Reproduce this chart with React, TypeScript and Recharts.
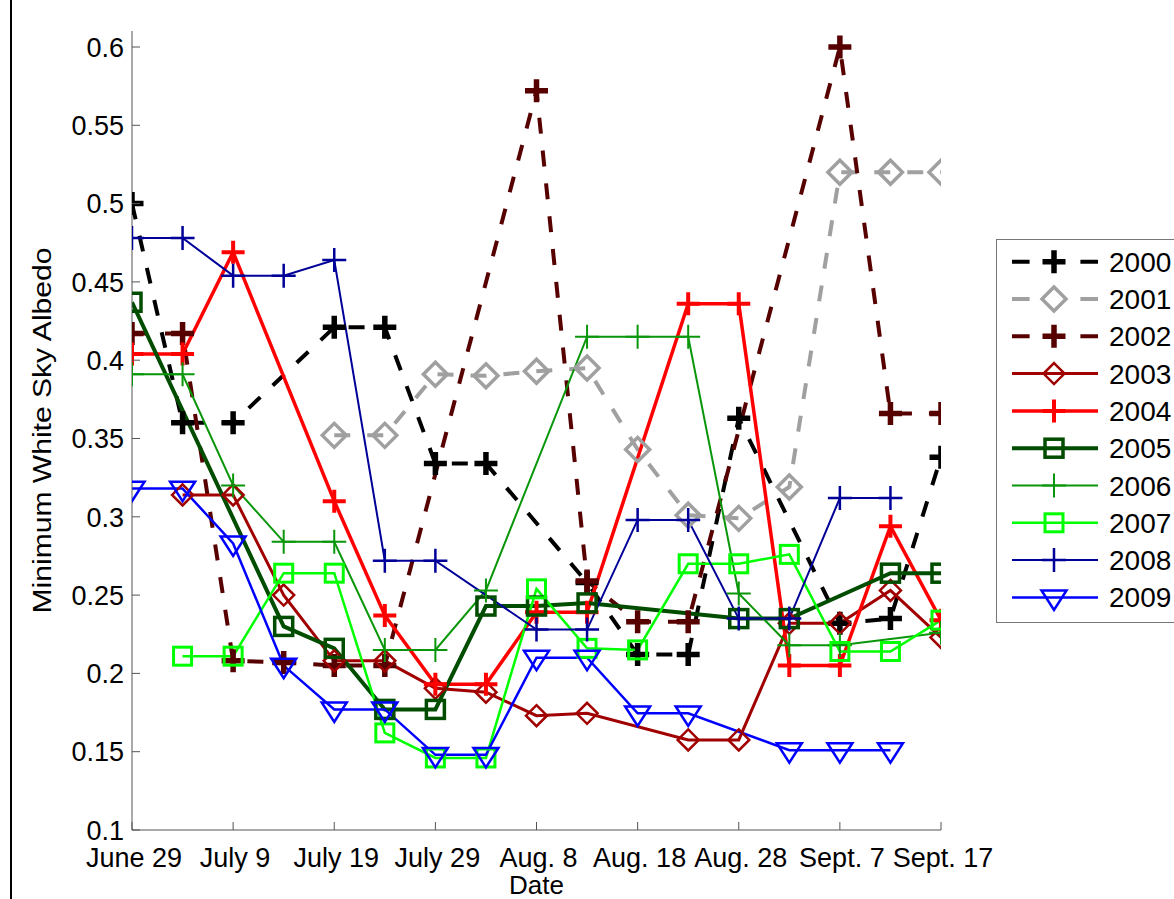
import React from 'react';
import { LineChart, Line, XAxis, YAxis } from 'recharts';

// ---------- data ----------
const days = [0, 5, 10, 15, 20, 25, 30, 35, 40, 45, 50, 55, 60, 65, 70, 75, 80];
const xTickDays = [0, 10, 20, 30, 40, 50, 60, 70, 80];
const xTickLabels = ['June 29', 'July 9', 'July 19', 'July 29', 'Aug. 8', 'Aug. 18', 'Aug. 28', 'Sept. 7', 'Sept. 17'];
const yTicks = [0.1, 0.15, 0.2, 0.25, 0.3, 0.35, 0.4, 0.45, 0.5, 0.55, 0.6];
const yTickLabels = ['0.1', '0.15', '0.2', '0.25', '0.3', '0.35', '0.4', '0.45', '0.5', '0.55', '0.6'];

const y2000 = [0.5, 0.36, 0.36, null, 0.421, 0.421, 0.334, 0.334, null, 0.258, 0.212, 0.212, 0.363, null, 0.232, 0.235, 0.338];
const y2001 = [null, null, null, null, 0.352, 0.352, 0.391, 0.39, 0.393, 0.395, 0.343, 0.301, 0.299, 0.319, 0.52, 0.52, 0.52];
const y2002 = [0.417, 0.417, 0.208, 0.207, 0.205, 0.205, null, null, 0.572, 0.259, 0.233, 0.233, null, null, 0.6, 0.366, 0.366];
const y2003 = [null, 0.314, 0.314, 0.25, 0.208, 0.208, 0.1905, 0.188, 0.173, 0.1745, null, 0.1575, 0.1575, 0.232, 0.232, 0.253, 0.223];
const y2004 = [0.404, 0.404, 0.469, null, 0.31, 0.237, 0.193, 0.193, 0.239, 0.239, null, 0.436, 0.436, 0.205, 0.205, 0.294, 0.234];
const y2005 = [0.437, null, null, 0.23, 0.216, 0.177, 0.177, 0.243, 0.243, 0.245, null, null, 0.235, 0.235, null, 0.264, 0.264];
const y2006 = [0.391, 0.391, 0.32, 0.284, 0.284, 0.215, 0.215, 0.253, null, 0.415, 0.415, 0.415, 0.251, 0.218, 0.218, null, 0.226];
const y2007 = [null, 0.211, 0.211, 0.264, 0.264, 0.162, 0.146, 0.146, 0.254, 0.216, 0.215, 0.27, 0.27, 0.276, 0.214, 0.214, 0.234];
const y2008 = [0.478, 0.478, 0.454, 0.454, 0.464, 0.272, 0.272, null, 0.228, 0.228, 0.298, 0.298, 0.235, 0.235, 0.312, 0.312, null];
const y2009 = [0.318, 0.318, 0.283, 0.205, 0.177, 0.177, 0.148, 0.148, 0.21, 0.21, 0.1745, 0.1745, null, 0.151, 0.151, 0.151, null];

const seriesNames = ['2000', '2001', '2002', '2003', '2004', '2005', '2006', '2007', '2008', '2009'];
const seriesValues = [y2000, y2001, y2002, y2003, y2004, y2005, y2006, y2007, y2008, y2009];

// ---------- styles ----------
type MarkerType = 'plus' | 'diamond' | 'square' | 'tri';
interface SeriesStyle { color: string; width: number; dash?: string; marker: MarkerType; size: number; msw: number; }
const styles: SeriesStyle[] = [
  { color: '#000000', width: 4, dash: '16 17', marker: 'plus', size: 11.5, msw: 5.5 },
  { color: '#a0a0a0', width: 4, dash: '16 17', marker: 'diamond', size: 12, msw: 3.5 },
  { color: '#560000', width: 4, dash: '16 17', marker: 'plus', size: 11.5, msw: 5.5 },
  { color: '#a00000', width: 3, marker: 'diamond', size: 10.5, msw: 2.5 },
  { color: '#ff0000', width: 3.5, marker: 'plus', size: 11.5, msw: 4 },
  { color: '#004d00', width: 4, marker: 'square', size: 9, msw: 3.5 },
  { color: '#0a960a', width: 2, marker: 'plus', size: 12, msw: 2 },
  { color: '#00ff00', width: 2.5, marker: 'square', size: 9, msw: 3 },
  { color: '#000099', width: 2, marker: 'plus', size: 12, msw: 2.5 },
  { color: '#0000ff', width: 2.5, marker: 'tri', size: 12.5, msw: 2.5 },
];

const tableData = days.map((d, i) => {
  const row: Record<string, number | null> = { day: d };
  seriesNames.forEach((n, k) => { row['s' + n] = seriesValues[k][i]; });
  return row;
});

const FONT = '"Liberation Sans", Arial, Helvetica, sans-serif';
const W = 1174;
const H = 899;
const PLOT_LEFT = 132;
const PLOT_TOP = 31;
const PLOT_RIGHT = 941;
const PLOT_BOTTOM = 830;
const AXIS_COLOR = '#555555';
const TICK_LEN = 8;

function Marker({ type, cx, cy, color, size, sw }: { type: MarkerType; cx: number; cy: number; color: string; size: number; sw: number }) {
  if (type === 'plus') {
    return <path d={`M${cx - size},${cy}H${cx + size}M${cx},${cy - size}V${cy + size}`} stroke={color} strokeWidth={sw} fill="none" />;
  }
  if (type === 'diamond') {
    return <path d={`M${cx},${cy - size}L${cx + size},${cy}L${cx},${cy + size}L${cx - size},${cy}Z`} stroke={color} strokeWidth={sw} fill="none" />;
  }
  if (type === 'square') {
    return <rect x={cx - size} y={cy - size} width={size * 2} height={size * 2} stroke={color} strokeWidth={sw} fill="none" />;
  }
  return <path d={`M${cx - size},${cy - size * 0.55}L${cx + size},${cy - size * 0.55}L${cx},${cy + size}Z`} stroke={color} strokeWidth={sw} fill="none" />;
}

const makeDot = (k: number) => (p: any) => {
  const st = styles[k];
  const key = `dot-${k}-${p.index}`;
  if (p.cy == null || p.value == null || isNaN(p.cy)) return <g key={key} />;
  return <g key={key}><Marker type={st.marker} cx={p.cx} cy={p.cy} color={st.color} size={st.size} sw={st.msw} /></g>;
};

const BottomTick = (props: any) => {
  const { x, y, payload, index } = props;
  return (
    <g>
      <line x1={x} x2={x} y1={y} y2={y - TICK_LEN} stroke={AXIS_COLOR} strokeWidth={1} />
      <text x={x + 2} y={y + 37} textAnchor="middle" fontSize={27} fontFamily={FONT} fill="#000">{xTickLabels[index] ?? payload.value}</text>
    </g>
  );
};
const TopTick = (props: any) => {
  const { x, y } = props;
  return <line x1={x} x2={x} y1={y} y2={y + TICK_LEN} stroke={AXIS_COLOR} strokeWidth={1} />;
};
const LeftTick = (props: any) => {
  const { x, y, index, payload } = props;
  return (
    <g>
      <line x1={x} x2={x + TICK_LEN} y1={y} y2={y} stroke={AXIS_COLOR} strokeWidth={1} />
      <text x={x - 8} y={y} dy="0.36em" textAnchor="end" fontSize={27} fontFamily={FONT} fill="#000">{yTickLabels[index] ?? payload.value}</text>
    </g>
  );
};
const RightTick = (props: any) => {
  const { x, y } = props;
  return <line x1={x - TICK_LEN} x2={x} y1={y} y2={y} stroke={AXIS_COLOR} strokeWidth={1} />;
};

const LEG_LEFT = 996;
const LEG_TOP = 239;
const LEG_H = 383;

export default function App() {
  const yDomain: [number, number] = [0.1, 0.1 + (PLOT_BOTTOM - PLOT_TOP) / 1566];
  return (
    <div style={{ position: 'absolute', left: 0, top: 0, width: W, height: H, overflow: 'hidden', background: '#fff' }}>
      <div style={{ position: 'absolute', left: 0, top: 0 }}>
        <LineChart width={W} height={H} data={tableData}
          margin={{ top: PLOT_TOP, right: W - PLOT_RIGHT, bottom: 0, left: PLOT_LEFT - 100 }}>
          <XAxis xAxisId="b" dataKey="day" type="number" domain={[0, 80]} ticks={xTickDays} interval={0}
            height={H - PLOT_BOTTOM} tickSize={0} tickMargin={0} tick={<BottomTick />}
            axisLine={{ stroke: AXIS_COLOR, strokeWidth: 1 }} tickLine={false} allowDataOverflow />
          <XAxis xAxisId="t" orientation="top" dataKey="day" type="number" domain={[0, 80]} ticks={xTickDays} interval={0}
            height={0} tickSize={0} tickMargin={0} tick={<TopTick />}
            axisLine={{ stroke: AXIS_COLOR, strokeWidth: 1 }} tickLine={false} allowDataOverflow />
          <YAxis yAxisId="l" type="number" domain={yDomain} ticks={yTicks} interval={0} width={100}
            tickSize={0} tickMargin={0} tick={<LeftTick />}
            axisLine={{ stroke: AXIS_COLOR, strokeWidth: 1 }} tickLine={false} allowDataOverflow />
          <YAxis yAxisId="r" orientation="right" type="number" domain={yDomain} ticks={yTicks} interval={0} width={0}
            tickSize={0} tickMargin={0} tick={<RightTick />}
            axisLine={{ stroke: AXIS_COLOR, strokeWidth: 1 }} tickLine={false} allowDataOverflow />
          {seriesNames.map((n, k) => (
            <Line key={n} xAxisId="b" yAxisId="l" type="linear" dataKey={'s' + n} name={n}
              stroke={styles[k].color} strokeWidth={styles[k].width} strokeDasharray={styles[k].dash}
              strokeLinejoin="miter" strokeLinecap="butt"
              connectNulls dot={makeDot(k)} activeDot={false} isAnimationActive={false} />
          ))}
        </LineChart>
      </div>
      <svg width={W} height={H} style={{ position: 'absolute', left: 0, top: 0, pointerEvents: 'none' }}>
        <line x1={11} x2={11} y1={0} y2={H} stroke="#000" strokeWidth={2} />
        <text x={(PLOT_LEFT + PLOT_RIGHT) / 2} y={894} textAnchor="middle" fontSize={26} fontFamily={FONT} fill="#000">Date</text>
        <text transform={`translate(51, ${(PLOT_TOP + PLOT_BOTTOM) / 2}) rotate(-90)`} textAnchor="middle"
          fontSize={25} fontFamily={FONT} fill="#000" textLength={366} lengthAdjust="spacingAndGlyphs">Minimum White Sky Albedo</text>
        <g transform={`translate(${LEG_LEFT}, ${LEG_TOP})`}>
          <rect x={0.5} y={0.5} width={300} height={LEG_H} fill="#fff" stroke="#777" strokeWidth={1} />
          {seriesNames.map((n, k) => {
            const st = styles[k];
            const cy = 22.7 + 37.3 * k;
            return (
              <g key={n}>
                <line x1={16} x2={102} y1={cy} y2={cy} stroke={st.color} strokeWidth={st.width}
                  strokeDasharray={st.dash ? '17.6 50.8 17.6' : undefined} />
                <Marker type={st.marker} cx={58} cy={cy} color={st.color} size={st.size} sw={st.msw} />
                <text x={113} y={cy} dy="0.36em" fontSize={28} fontFamily={FONT} fill="#000">{n}</text>
              </g>
            );
          })}
        </g>
      </svg>
    </div>
  );
}
